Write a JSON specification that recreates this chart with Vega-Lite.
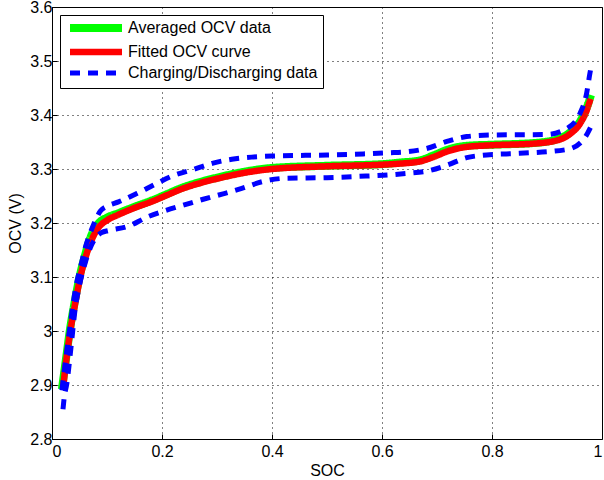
{
  "$schema": "https://vega.github.io/schema/vega-lite/v6.json",
  "description": "OCV versus SOC: averaged, fitted and charging/discharging curves.",
  "width": 550,
  "height": 432,
  "autosize": "none",
  "padding": {"left": 52, "top": 7, "right": 2, "bottom": 41},
  "data": {
    "values": [
      {"series": "Averaged OCV data", "curve": "avg", "soc": 0.018, "ocv": 2.892},
      {"series": "Averaged OCV data", "curve": "avg", "soc": 0.025, "ocv": 2.945},
      {"series": "Averaged OCV data", "curve": "avg", "soc": 0.033, "ocv": 3.005},
      {"series": "Averaged OCV data", "curve": "avg", "soc": 0.042, "ocv": 3.058},
      {"series": "Averaged OCV data", "curve": "avg", "soc": 0.05, "ocv": 3.1},
      {"series": "Averaged OCV data", "curve": "avg", "soc": 0.06, "ocv": 3.14},
      {"series": "Averaged OCV data", "curve": "avg", "soc": 0.067, "ocv": 3.165},
      {"series": "Averaged OCV data", "curve": "avg", "soc": 0.075, "ocv": 3.185},
      {"series": "Averaged OCV data", "curve": "avg", "soc": 0.085, "ocv": 3.2},
      {"series": "Averaged OCV data", "curve": "avg", "soc": 0.1, "ocv": 3.21},
      {"series": "Averaged OCV data", "curve": "avg", "soc": 0.12, "ocv": 3.218},
      {"series": "Averaged OCV data", "curve": "avg", "soc": 0.15, "ocv": 3.23},
      {"series": "Averaged OCV data", "curve": "avg", "soc": 0.182, "ocv": 3.242},
      {"series": "Averaged OCV data", "curve": "avg", "soc": 0.21, "ocv": 3.254},
      {"series": "Averaged OCV data", "curve": "avg", "soc": 0.233, "ocv": 3.264},
      {"series": "Averaged OCV data", "curve": "avg", "soc": 0.273, "ocv": 3.277},
      {"series": "Averaged OCV data", "curve": "avg", "soc": 0.3, "ocv": 3.284},
      {"series": "Averaged OCV data", "curve": "avg", "soc": 0.35, "ocv": 3.295},
      {"series": "Averaged OCV data", "curve": "avg", "soc": 0.4, "ocv": 3.302},
      {"series": "Averaged OCV data", "curve": "avg", "soc": 0.5, "ocv": 3.306},
      {"series": "Averaged OCV data", "curve": "avg", "soc": 0.6, "ocv": 3.309},
      {"series": "Averaged OCV data", "curve": "avg", "soc": 0.633, "ocv": 3.312},
      {"series": "Averaged OCV data", "curve": "avg", "soc": 0.669, "ocv": 3.316},
      {"series": "Averaged OCV data", "curve": "avg", "soc": 0.693, "ocv": 3.325},
      {"series": "Averaged OCV data", "curve": "avg", "soc": 0.72, "ocv": 3.336},
      {"series": "Averaged OCV data", "curve": "avg", "soc": 0.754, "ocv": 3.343},
      {"series": "Averaged OCV data", "curve": "avg", "soc": 0.8, "ocv": 3.345},
      {"series": "Averaged OCV data", "curve": "avg", "soc": 0.875, "ocv": 3.348},
      {"series": "Averaged OCV data", "curve": "avg", "soc": 0.918, "ocv": 3.355},
      {"series": "Averaged OCV data", "curve": "avg", "soc": 0.942, "ocv": 3.368},
      {"series": "Averaged OCV data", "curve": "avg", "soc": 0.96, "ocv": 3.388},
      {"series": "Averaged OCV data", "curve": "avg", "soc": 0.972, "ocv": 3.413},
      {"series": "Averaged OCV data", "curve": "avg", "soc": 0.98, "ocv": 3.437},

      {"series": "Fitted OCV curve", "curve": "fit", "soc": 0.02, "ocv": 2.893},
      {"series": "Fitted OCV curve", "curve": "fit", "soc": 0.025, "ocv": 2.938},
      {"series": "Fitted OCV curve", "curve": "fit", "soc": 0.033, "ocv": 2.998},
      {"series": "Fitted OCV curve", "curve": "fit", "soc": 0.042, "ocv": 3.05},
      {"series": "Fitted OCV curve", "curve": "fit", "soc": 0.0515, "ocv": 3.1},
      {"series": "Fitted OCV curve", "curve": "fit", "soc": 0.06, "ocv": 3.133},
      {"series": "Fitted OCV curve", "curve": "fit", "soc": 0.067, "ocv": 3.155},
      {"series": "Fitted OCV curve", "curve": "fit", "soc": 0.075, "ocv": 3.175},
      {"series": "Fitted OCV curve", "curve": "fit", "soc": 0.085, "ocv": 3.192},
      {"series": "Fitted OCV curve", "curve": "fit", "soc": 0.1, "ocv": 3.205},
      {"series": "Fitted OCV curve", "curve": "fit", "soc": 0.12, "ocv": 3.215},
      {"series": "Fitted OCV curve", "curve": "fit", "soc": 0.15, "ocv": 3.228},
      {"series": "Fitted OCV curve", "curve": "fit", "soc": 0.182, "ocv": 3.24},
      {"series": "Fitted OCV curve", "curve": "fit", "soc": 0.21, "ocv": 3.252},
      {"series": "Fitted OCV curve", "curve": "fit", "soc": 0.233, "ocv": 3.262},
      {"series": "Fitted OCV curve", "curve": "fit", "soc": 0.273, "ocv": 3.275},
      {"series": "Fitted OCV curve", "curve": "fit", "soc": 0.3, "ocv": 3.282},
      {"series": "Fitted OCV curve", "curve": "fit", "soc": 0.35, "ocv": 3.293},
      {"series": "Fitted OCV curve", "curve": "fit", "soc": 0.4, "ocv": 3.3},
      {"series": "Fitted OCV curve", "curve": "fit", "soc": 0.5, "ocv": 3.305},
      {"series": "Fitted OCV curve", "curve": "fit", "soc": 0.6, "ocv": 3.308},
      {"series": "Fitted OCV curve", "curve": "fit", "soc": 0.633, "ocv": 3.31},
      {"series": "Fitted OCV curve", "curve": "fit", "soc": 0.669, "ocv": 3.314},
      {"series": "Fitted OCV curve", "curve": "fit", "soc": 0.693, "ocv": 3.322},
      {"series": "Fitted OCV curve", "curve": "fit", "soc": 0.72, "ocv": 3.333},
      {"series": "Fitted OCV curve", "curve": "fit", "soc": 0.754, "ocv": 3.341},
      {"series": "Fitted OCV curve", "curve": "fit", "soc": 0.8, "ocv": 3.344},
      {"series": "Fitted OCV curve", "curve": "fit", "soc": 0.875, "ocv": 3.347},
      {"series": "Fitted OCV curve", "curve": "fit", "soc": 0.918, "ocv": 3.353},
      {"series": "Fitted OCV curve", "curve": "fit", "soc": 0.942, "ocv": 3.365},
      {"series": "Fitted OCV curve", "curve": "fit", "soc": 0.96, "ocv": 3.384},
      {"series": "Fitted OCV curve", "curve": "fit", "soc": 0.972, "ocv": 3.408},
      {"series": "Fitted OCV curve", "curve": "fit", "soc": 0.979, "ocv": 3.43},

      {"series": "Charging/Discharging data", "curve": "charge", "soc": 0.018, "ocv": 2.89},
      {"series": "Charging/Discharging data", "curve": "charge", "soc": 0.024, "ocv": 2.94},
      {"series": "Charging/Discharging data", "curve": "charge", "soc": 0.033, "ocv": 3.011},
      {"series": "Charging/Discharging data", "curve": "charge", "soc": 0.044, "ocv": 3.085},
      {"series": "Charging/Discharging data", "curve": "charge", "soc": 0.052, "ocv": 3.119},
      {"series": "Charging/Discharging data", "curve": "charge", "soc": 0.061, "ocv": 3.156},
      {"series": "Charging/Discharging data", "curve": "charge", "soc": 0.074, "ocv": 3.193},
      {"series": "Charging/Discharging data", "curve": "charge", "soc": 0.088, "ocv": 3.222},
      {"series": "Charging/Discharging data", "curve": "charge", "soc": 0.1, "ocv": 3.231},
      {"series": "Charging/Discharging data", "curve": "charge", "soc": 0.121, "ocv": 3.239},
      {"series": "Charging/Discharging data", "curve": "charge", "soc": 0.155, "ocv": 3.255},
      {"series": "Charging/Discharging data", "curve": "charge", "soc": 0.188, "ocv": 3.272},
      {"series": "Charging/Discharging data", "curve": "charge", "soc": 0.221, "ocv": 3.288},
      {"series": "Charging/Discharging data", "curve": "charge", "soc": 0.257, "ocv": 3.299},
      {"series": "Charging/Discharging data", "curve": "charge", "soc": 0.293, "ocv": 3.311},
      {"series": "Charging/Discharging data", "curve": "charge", "soc": 0.327, "ocv": 3.318},
      {"series": "Charging/Discharging data", "curve": "charge", "soc": 0.363, "ocv": 3.322},
      {"series": "Charging/Discharging data", "curve": "charge", "soc": 0.4, "ocv": 3.324},
      {"series": "Charging/Discharging data", "curve": "charge", "soc": 0.5, "ocv": 3.326},
      {"series": "Charging/Discharging data", "curve": "charge", "soc": 0.566, "ocv": 3.328},
      {"series": "Charging/Discharging data", "curve": "charge", "soc": 0.611, "ocv": 3.33},
      {"series": "Charging/Discharging data", "curve": "charge", "soc": 0.647, "ocv": 3.332},
      {"series": "Charging/Discharging data", "curve": "charge", "soc": 0.681, "ocv": 3.338},
      {"series": "Charging/Discharging data", "curve": "charge", "soc": 0.718, "ocv": 3.351},
      {"series": "Charging/Discharging data", "curve": "charge", "soc": 0.754, "ocv": 3.36},
      {"series": "Charging/Discharging data", "curve": "charge", "soc": 0.8, "ocv": 3.363},
      {"series": "Charging/Discharging data", "curve": "charge", "soc": 0.9, "ocv": 3.364},
      {"series": "Charging/Discharging data", "curve": "charge", "soc": 0.936, "ocv": 3.375},
      {"series": "Charging/Discharging data", "curve": "charge", "soc": 0.96, "ocv": 3.403},
      {"series": "Charging/Discharging data", "curve": "charge", "soc": 0.972, "ocv": 3.44},
      {"series": "Charging/Discharging data", "curve": "charge", "soc": 0.978, "ocv": 3.477},
      {"series": "Charging/Discharging data", "curve": "charge", "soc": 0.98, "ocv": 3.488},

      {"series": "Charging/Discharging data", "curve": "discharge", "soc": 0.02, "ocv": 2.855},
      {"series": "Charging/Discharging data", "curve": "discharge", "soc": 0.022, "ocv": 2.875},
      {"series": "Charging/Discharging data", "curve": "discharge", "soc": 0.027, "ocv": 2.903},
      {"series": "Charging/Discharging data", "curve": "discharge", "soc": 0.035, "ocv": 2.974},
      {"series": "Charging/Discharging data", "curve": "discharge", "soc": 0.042, "ocv": 3.04},
      {"series": "Charging/Discharging data", "curve": "discharge", "soc": 0.05, "ocv": 3.085},
      {"series": "Charging/Discharging data", "curve": "discharge", "soc": 0.06, "ocv": 3.125},
      {"series": "Charging/Discharging data", "curve": "discharge", "soc": 0.07, "ocv": 3.155},
      {"series": "Charging/Discharging data", "curve": "discharge", "soc": 0.08, "ocv": 3.173},
      {"series": "Charging/Discharging data", "curve": "discharge", "soc": 0.09, "ocv": 3.182},
      {"series": "Charging/Discharging data", "curve": "discharge", "soc": 0.103, "ocv": 3.186},
      {"series": "Charging/Discharging data", "curve": "discharge", "soc": 0.139, "ocv": 3.194},
      {"series": "Charging/Discharging data", "curve": "discharge", "soc": 0.173, "ocv": 3.211},
      {"series": "Charging/Discharging data", "curve": "discharge", "soc": 0.206, "ocv": 3.223},
      {"series": "Charging/Discharging data", "curve": "discharge", "soc": 0.242, "ocv": 3.234},
      {"series": "Charging/Discharging data", "curve": "discharge", "soc": 0.275, "ocv": 3.244},
      {"series": "Charging/Discharging data", "curve": "discharge", "soc": 0.311, "ocv": 3.254},
      {"series": "Charging/Discharging data", "curve": "discharge", "soc": 0.345, "ocv": 3.264},
      {"series": "Charging/Discharging data", "curve": "discharge", "soc": 0.384, "ocv": 3.277},
      {"series": "Charging/Discharging data", "curve": "discharge", "soc": 0.427, "ocv": 3.283},
      {"series": "Charging/Discharging data", "curve": "discharge", "soc": 0.5, "ocv": 3.284},
      {"series": "Charging/Discharging data", "curve": "discharge", "soc": 0.572, "ocv": 3.287},
      {"series": "Charging/Discharging data", "curve": "discharge", "soc": 0.611, "ocv": 3.289},
      {"series": "Charging/Discharging data", "curve": "discharge", "soc": 0.647, "ocv": 3.292},
      {"series": "Charging/Discharging data", "curve": "discharge", "soc": 0.681, "ocv": 3.296},
      {"series": "Charging/Discharging data", "curve": "discharge", "soc": 0.718, "ocv": 3.307},
      {"series": "Charging/Discharging data", "curve": "discharge", "soc": 0.754, "ocv": 3.321},
      {"series": "Charging/Discharging data", "curve": "discharge", "soc": 0.79, "ocv": 3.326},
      {"series": "Charging/Discharging data", "curve": "discharge", "soc": 0.85, "ocv": 3.329},
      {"series": "Charging/Discharging data", "curve": "discharge", "soc": 0.936, "ocv": 3.336},
      {"series": "Charging/Discharging data", "curve": "discharge", "soc": 0.966, "ocv": 3.354},
      {"series": "Charging/Discharging data", "curve": "discharge", "soc": 0.981, "ocv": 3.381}
    ]
  },
  "encoding": {
    "x": {
      "field": "soc",
      "type": "quantitative",
      "title": "SOC",
      "scale": {"domain": [0, 1], "nice": false},
      "axis": {"values": [0, 0.2, 0.4, 0.6, 0.8, 1], "format": ".1~f"}
    },
    "y": {
      "field": "ocv",
      "type": "quantitative",
      "title": "OCV (V)",
      "scale": {"domain": [2.8, 3.6], "nice": false, "zero": false},
      "axis": {"values": [2.8, 2.9, 3.0, 3.1, 3.2, 3.3, 3.4, 3.5, 3.6], "format": ".1~f"}
    },
    "color": {
      "field": "series",
      "type": "nominal",
      "title": null,
      "scale": {
        "domain": ["Averaged OCV data", "Fitted OCV curve", "Charging/Discharging data"],
        "range": ["#00ff00", "#ff0000", "#0000ff"]
      }
    },
    "strokeWidth": {
      "field": "series",
      "type": "nominal",
      "title": null,
      "scale": {
        "domain": ["Averaged OCV data", "Fitted OCV curve", "Charging/Discharging data"],
        "range": [8, 5, 4]
      }
    },
    "strokeDash": {
      "field": "series",
      "type": "nominal",
      "title": null,
      "scale": {
        "domain": ["Averaged OCV data", "Fitted OCV curve", "Charging/Discharging data"],
        "range": [[1, 0], [1, 0], [10, 8]]
      }
    }
  },
  "layer": [
    {
      "transform": [{"filter": "datum.curve == 'avg'"}],
      "mark": {"type": "line", "interpolate": "monotone"}
    },
    {
      "transform": [{"filter": "datum.curve == 'fit'"}],
      "mark": {"type": "line", "interpolate": "monotone"}
    },
    {
      "transform": [{"filter": "datum.series == 'Charging/Discharging data'"}],
      "mark": {"type": "line", "interpolate": "monotone"},
      "encoding": {"detail": {"field": "curve"}}
    }
  ],
  "config": {
    "font": "Liberation Sans",
    "view": {"stroke": "black", "strokeWidth": 1},
    "axis": {
      "domain": false,
      "ticks": true,
      "tickSize": -5,
      "tickColor": "black",
      "tickWidth": 1,
      "grid": true,
      "gridColor": "black",
      "gridOpacity": 1,
      "gridDash": [1, 4],
      "gridWidth": 1,
      "labelFont": "Liberation Sans",
      "labelFontSize": 16,
      "labelColor": "black",
      "titleFont": "Liberation Sans",
      "titleFontSize": 16,
      "titleFontWeight": "normal",
      "titleColor": "black"
    },
    "axisX": {"labelPadding": 9, "titlePadding": 3},
    "axisY": {"labelPadding": 5, "titlePadding": 6},
    "legend": {
      "orient": "none",
      "legendX": 8,
      "legendY": 8,
      "strokeColor": "black",
      "fillColor": "white",
      "padding": 5,
      "cornerRadius": 0,
      "symbolType": "M-6.5,0H6.5",
      "symbolSize": 64,
      "symbolOffset": 23,
      "labelOffset": 24,
      "labelFont": "Liberation Sans",
      "labelFontSize": 16,
      "labelColor": "black",
      "rowPadding": -6,
      "labelLimit": 400
    }
  }
}
